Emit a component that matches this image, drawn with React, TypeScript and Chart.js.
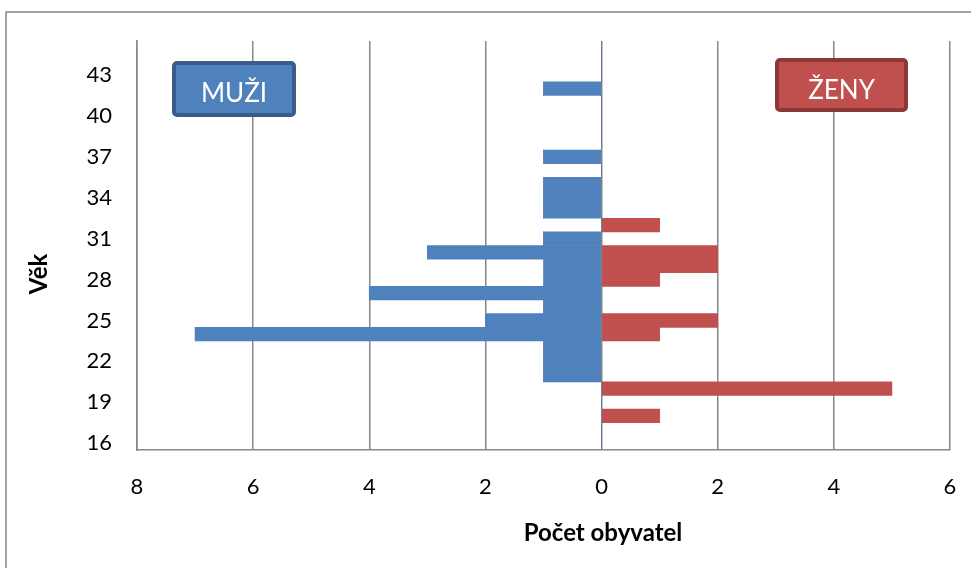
import React, { useEffect, useRef } from 'react';
import { Chart, registerables } from 'chart.js';

Chart.register(...registerables);

// ---- data ----
const ages: string[] = [
  '16','17','18','19','20','21','22','23','24','25',
  '26','27','28','29','30','31','32','33','34','35',
  '36','37','38','39','40','41','42','43','44','45',
];
const muzi: number[] = [
  0,0,0,0,0, 1,1,1,7,2,
  1,4,1,1,3, 1,0,1,1,1,
  0,1,0,0,0, 0,1,0,0,0,
];
const zeny: number[] = [
  0,0,1,0,5, 0,0,0,1,2,
  0,0,1,2,2, 0,1,0,0,0,
  0,0,0,0,0, 0,0,0,0,0,
];
const yTickLabels: string[] = ['16','19','22','25','28','31','34','37','40','43'];
const xMin = -8;
const xMax = 6;
const xStep = 2;
const legendMuzi = 'MUŽI';
const legendZeny = 'ŽENY';
const xTitle = 'Počet obyvatel';
const yTitle = 'Věk';

const BLUE = '#4F81BD';
const BLUE_DARK = '#385D8A';
const RED = '#C0504D';
const RED_DARK = '#8C3836';
const GRID = '#878787';
const FONT = 'Lato, "Open Sans", sans-serif';

export default function App() {
  const ref = useRef<HTMLCanvasElement | null>(null);

  useEffect(() => {
    if (!ref.current) return;

    const decor = {
      id: 'decor',
      beforeDraw(chart: any) {
        const ctx = chart.ctx;
        ctx.save();
        ctx.fillStyle = '#ffffff';
        ctx.fillRect(0, 0, chart.width, chart.height);
        ctx.strokeStyle = GRID;
        ctx.lineWidth = 1.5;
        ctx.strokeRect(6, 12, 1000, 620);
        ctx.restore();
      },
      afterDraw(chart: any) {
        const ctx = chart.ctx;
        ctx.save();
        const box = (x: number, y: number, w: number, h: number, fill: string, stroke: string, text: string, dy: number) => {
          ctx.beginPath();
          (ctx as any).roundRect(x, y, w, h, 3);
          ctx.fillStyle = fill;
          ctx.fill();
          ctx.lineWidth = 4;
          ctx.strokeStyle = stroke;
          ctx.stroke();
          ctx.fillStyle = '#ffffff';
          ctx.font = `26px ${FONT}`;
          ctx.textAlign = 'center';
          ctx.textBaseline = 'middle';
          ctx.fillText(text, x + w / 2, y + h / 2 + dy);
        };
        box(174, 63, 120, 52, BLUE, BLUE_DARK, legendMuzi, 5);
        box(777, 60, 129, 50, RED, RED_DARK, legendZeny, 6);

        ctx.fillStyle = '#000000';
        ctx.font = `bold 24px ${FONT}`;
        ctx.textAlign = 'center';
        ctx.textBaseline = 'middle';
        ctx.fillText(xTitle, 603, 533);
        ctx.translate(39, 274);
        ctx.rotate(-Math.PI / 2);
        ctx.fillText(yTitle, 0, 0);
        ctx.restore();
      },
    };

    const chart = new Chart(ref.current, {
      type: 'bar',
      data: {
        labels: ages,
        datasets: [
          {
            label: legendMuzi,
            data: muzi.map((v) => -v),
            backgroundColor: BLUE,
            borderWidth: 0,
            categoryPercentage: 1,
            barPercentage: 1,
          },
          {
            label: legendZeny,
            data: zeny,
            backgroundColor: RED,
            borderWidth: 0,
            categoryPercentage: 1,
            barPercentage: 1,
          },
        ],
      },
      options: {
        indexAxis: 'y',
        animation: false,
        responsive: false,
        devicePixelRatio: 1,
        layout: { padding: { top: 41, right: 21, left: 0, bottom: 0 } },
        plugins: {
          legend: { display: false },
          tooltip: { enabled: false },
          title: { display: false },
        },
        scales: {
          x: {
            type: 'linear',
            stacked: true,
            min: xMin,
            max: xMax,
            ticks: {
              stepSize: xStep,
              padding: 24,
              color: '#000',
              font: { family: FONT, size: 22 },
              callback: (v: any) => String(Math.abs(Number(v))),
            },
            grid: { color: GRID, lineWidth: 1.5, drawTicks: false },
            border: { display: true, color: GRID, width: 1.5 },
            afterFit: (s: any) => { s.height = 118; s.paddingLeft = 0; s.paddingRight = 0; },
          },
          y: {
            type: 'category',
            stacked: true,
            reverse: true,
            ticks: {
              autoSkip: false,
              padding: 25,
              color: '#000',
              font: { family: FONT, size: 22 },
              callback: function (this: any, v: any) {
                const lab = ages[Number(v)];
                return yTickLabels.includes(lab) ? lab : '';
              },
            },
            grid: { display: false, drawTicks: false },
            border: { display: true, color: GRID, width: 1.5 },
            afterFit: (s: any) => { s.width = 137; s.paddingTop = 0; s.paddingBottom = 0; },
          },
        },
      },
      plugins: [decor],
    });

    return () => chart.destroy();
  }, []);

  return (
    <div style={{ position: 'absolute', left: 0, top: 0, width: 971, height: 568, overflow: 'hidden' }}>
      <canvas ref={ref} width={971} height={568} style={{ width: 971, height: 568, display: 'block' }} />
    </div>
  );
}
